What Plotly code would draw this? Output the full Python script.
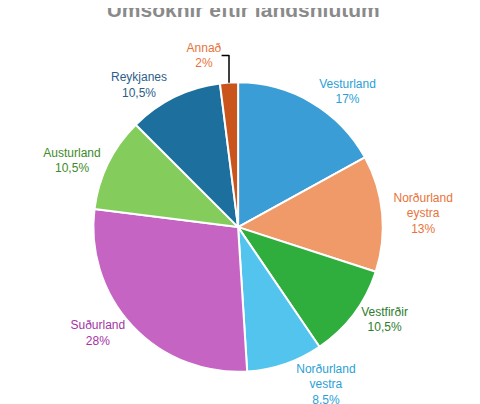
import plotly.graph_objects as go

regions = ["Vesturland", "Norðurland<br>eystra", "Vestfirðir", "Norðurland<br>vestra",
           "Suðurland", "Austurland", "Reykjanes", "Annað"]
shares = [17, 13, 10.5, 8.5, 28, 10.5, 10.5, 2]
share_labels = ["17%", "13%", "10,5%", "8,5%", "28%", "10,5%", "10,5%", "2%"]
slice_colors = ["#3a9dd6", "#f09a6a", "#2fae3e", "#52c4ee", "#c664c4", "#84cc5c", "#1d6f9e", "#c9541c"]
text_colors = ["#2a9fd6", "#e8733a", "#2d7d2d", "#2a9fd6", "#a434a4", "#3d8b2a", "#2d5e8a", "#e8733a"]

fig = go.Figure(go.Pie(
    labels=regions, values=shares, customdata=share_labels,
    sort=False, direction="clockwise", rotation=0,
    marker=dict(colors=slice_colors, line=dict(color="white", width=2)),
    texttemplate="%{label}<br>%{customdata}", textposition="outside",
    textfont=dict(color=text_colors, size=12, family="Liberation Sans"),
    hoverinfo="label+percent", showlegend=False,
    domain=dict(x=[0.135, 0.845], y=[0.095, 0.815]),
))
fig.update_layout(
    width=480, height=404, margin=dict(l=0, r=0, t=0, b=0),
    paper_bgcolor="white",
    title=dict(text="<b>Umsóknir eftir landshlutum</b>", x=0.49, xanchor="center",
               y=0.995, yanchor="middle",
               font=dict(size=21, color="#8a8a8a", family="Liberation Sans")),
)
fig.write_html("out.html")
